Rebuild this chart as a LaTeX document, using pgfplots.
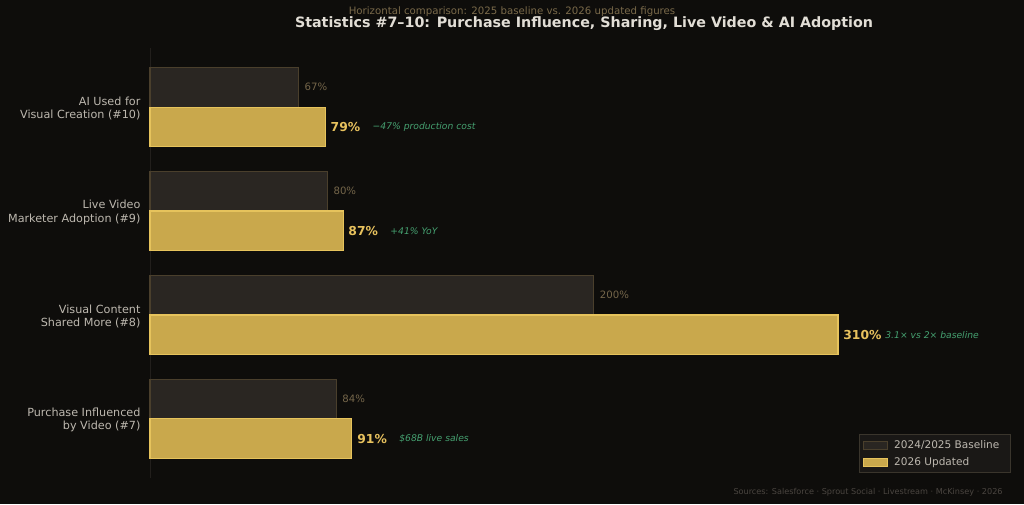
\documentclass[border=0pt]{standalone}
\usepackage{pgfplots}
\pgfplotsset{compat=1.18}
\usepackage{fontspec}
\setmainfont{DejaVu Sans}
\definecolor{bg}{HTML}{0E0D0B}
\definecolor{basefill}{HTML}{2A2622}
\definecolor{baseedge}{HTML}{4A3F2C}
\definecolor{newfill}{HTML}{C9A84C}
\definecolor{newedge}{HTML}{E6C35C}
\definecolor{basetext}{HTML}{75664A}
\definecolor{newtext}{HTML}{E8C25E}
\definecolor{greentext}{HTML}{45A070}
\definecolor{ticktext}{HTML}{BDB8AF}
\definecolor{titletext}{HTML}{E2DED6}
\definecolor{subtext}{HTML}{7A6A4A}
\definecolor{foottext}{HTML}{4A4540}
\definecolor{legfill}{HTML}{1A1816}
\definecolor{legedge}{HTML}{3A352C}
\definecolor{spine}{HTML}{221F1C}
\begin{document}
\begin{tikzpicture}
\fill[bg] (0pt,0pt) rectangle (768pt,378pt);
\node[font=\fontsize{7.65}{9}\selectfont, text=subtext] at (384pt,369pt) {Horizontal comparison: 2025 baseline vs. 2026 updated figures};
\node[font=\fontsize{10.7}{12}\selectfont\bfseries, text=titletext] at (438pt,360.5pt) {Statistics \#7–10: Purchase Influence, Sharing, Live Video \& AI Adoption};
\node[font=\fontsize{6.1}{7}\selectfont, text=foottext, anchor=east] at (755.5pt,9pt) {Sources: Salesforce · Sprout Social · Livestream · McKinsey · 2026};
\begin{axis}[
  at={(112.5pt,19.5pt)}, anchor=south west,
  scale only axis, width=645pt, height=322.5pt,
  xmin=0, xmax=387.5, ymin=-0.568, ymax=3.568,
  axis x line=none,
  axis y line=left,
  y axis line style={draw=spine, line width=0.6pt, -},
  ytick={0,1,2,3},
  yticklabels={{Purchase Influenced\\by Video (\#7)},{Visual Content\\Shared More (\#8)},{Live Video\\Marketer Adoption (\#9)},{AI Used for\\Visual Creation (\#10)}},
  yticklabel style={align=right, text=ticktext, font=\fontsize{8.4}{9.9}\selectfont, xshift=-1.5pt, yshift=-1pt},
  ytick style={draw=none},
  clip=false,
  legend style={at={(1,0)}, anchor=south east, xshift=0.75pt, yshift=3.75pt, fill=legfill, draw=legedge, text=ticktext, font=\fontsize{7.9}{10}\selectfont, row sep=1.5pt, inner sep=2pt},
  legend cell align=left,
  legend image code/.code={\draw[#1] (0pt,-3pt) rectangle (18pt,3pt); \path (-0.5pt,0pt) (21pt,0pt);},
]
\addplot[xbar, bar width=0.38, bar shift=0.19, fill=basefill, draw=baseedge, line width=0.8pt]
  coordinates {(84,0) (200,1) (80,2) (67,3)};
\addlegendentry{\mbox{2024/2025 Baseline\kern4.5pt}}
\addplot[xbar, bar width=0.38, bar shift=-0.19, fill=newfill, draw=newedge, line width=0.8pt]
  coordinates {(91,0) (310,1) (87,2) (79,3)};
\addlegendentry{2026 Updated}
\addplot[draw=none, forget plot, point meta=explicit symbolic, nodes near coords,
  every node near coord/.style={anchor=west, xshift=1pt, text=basetext, font=\fontsize{7.6}{9}\selectfont}]
  coordinates {(84,0.19) [84\%] (200,1.19) [200\%] (80,2.19) [80\%] (67,3.19) [67\%]};
\addplot[draw=none, forget plot, point meta=explicit symbolic, nodes near coords,
  every node near coord/.style={anchor=west, xshift=0.5pt, text=newtext, font=\fontsize{9.25}{11}\selectfont\bfseries}]
  coordinates {(91,-0.19) [91\%] (310,0.81) [310\%] (87,1.81) [87\%] (79,2.81) [79\%]};
\addplot[draw=none, forget plot, point meta=explicit symbolic, nodes near coords,
  every node near coord/.style={anchor=west, xshift=32pt, text=greentext, font=\fontsize{6.9}{9}\selectfont\itshape}]
  coordinates {(91,-0.19) [\$68B live sales] (310,0.81) [3.1× vs 2× baseline] (87,1.81) [+41\% YoY] (79,2.81) [−47\% production cost]};
\end{axis}
\end{tikzpicture}
\end{document}
